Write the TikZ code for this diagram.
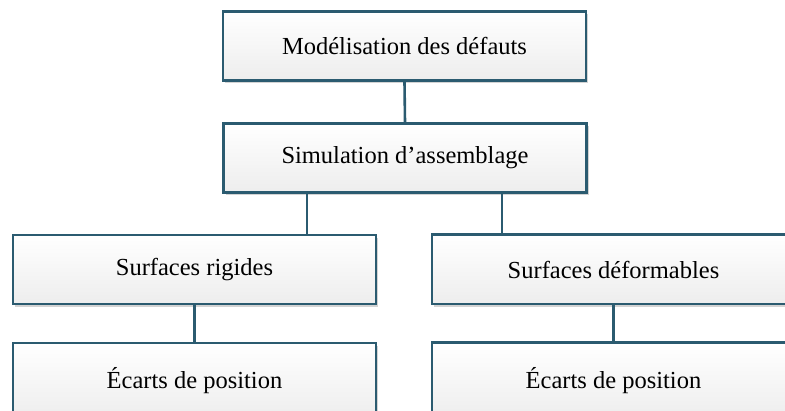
\documentclass[tikz,border=0pt]{standalone}
\usepackage{fontspec}
\setmainfont{Liberation Serif}
\usetikzlibrary{shadows,backgrounds}
\definecolor{edge}{HTML}{2B5B70}
\newcommand{\lowtxt}[1]{\raisebox{-2pt}{#1}}
\tikzset{
  box/.style={draw=edge, line width=2.6pt, rectangle, top color=white, bottom color=gray!14,
    minimum width=363pt, minimum height=69pt, inner sep=0pt, font=\fontsize{24.5}{27}\selectfont,
    drop shadow={shadow xshift=2pt, shadow yshift=-3pt, opacity=0.35, fill=gray}},
  openbox/.style={draw=none, rectangle, top color=white, bottom color=gray!14,
    minimum width=363pt, minimum height=69pt, inner sep=0pt, font=\fontsize{24.5}{27}\selectfont},
  shade/.style={fill=gray, opacity=0.35},
  link/.style={draw=edge, line width=2.6pt}
}
\begin{document}
\begin{tikzpicture}[x=1pt,y=-1pt]
\useasboundingbox (0,0) rectangle (785,411);
\node[box] (top) at (404.5,46) {\lowtxt{Modélisation des défauts}};
\node[box] (sim) at (405,158) {\lowtxt{Simulation d’assemblage}};
\node[box] (rig) at (194.5,269.5) {\lowtxt{Surfaces rigides}};
\node[openbox] (def) at (613.5,269.5) {\lowtxt{Surfaces déformables}};
\node[box, minimum height=76pt] (e1) at (194.5,381) {Écarts de position};
\node[openbox, minimum height=76pt] (e2) at (613.5,381) {Écarts de position};
\begin{pgfonlayer}{background}
\fill[shade] ([shift={(2pt,-3pt)}]def.south west) rectangle ([shift={(2pt,-3pt)}]def.north east);
\fill[shade] ([shift={(2pt,-3pt)}]e2.south west) rectangle ([shift={(2pt,-3pt)}]e2.north east);
\end{pgfonlayer}
\draw[link] (def.north east) -- (def.north west) -- (def.south west) -- (def.south east);
\draw[link] (e2.south west) -- (e2.north west) -- (e2.north east);
\draw[link] (top.south) -- (sim.north);
\draw[link] ([xshift=-98pt]sim.south) -- ([xshift=-98pt]sim.south |- rig.north);
\draw[link] ([xshift=97pt]sim.south) -- ([xshift=97pt]sim.south |- def.north);
\draw[link] (rig.south) -- (e1.north);
\draw[link] (def.south) -- (e2.north);
\end{tikzpicture}
\end{document}
